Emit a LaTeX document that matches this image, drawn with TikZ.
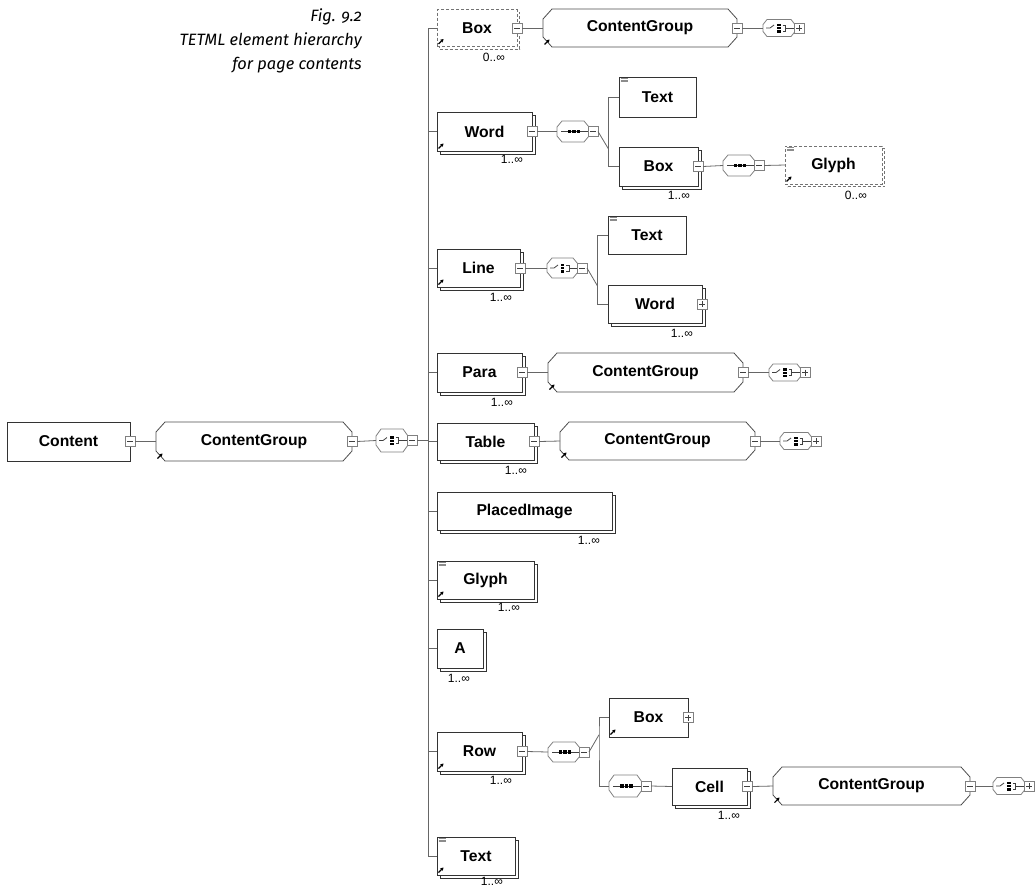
\documentclass[tikz,border=0pt]{standalone}
\usepackage{fontspec}
\setmainfont{Liberation Sans}
\newfontfamily\capfont{Fira Sans}[Numbers=OldStyle]
\usetikzlibrary{calc, positioning}
\usetikzlibrary{arrows.meta}
\usetikzlibrary{shadows}

\newcommand{\refArrow}[1]{\draw[refTip] ($(#1.west |- #1.south)+(1.5,-2.5)$) -- ++(5,-5);}
\newcommand{\txtMark}[1]{\foreach \d in {1.5,3,4.5}{\draw[txtLine] ([xshift=1.5pt,yshift=-\d pt]#1.north west) -- ++(7,0);}}
\newcommand{\card}[4]{\node[cardNum] (#1C) at ([xshift=-#2pt,yshift=-#3pt]#1.south east) {#4};}
\newcommand{\octo}[4][black!70]{\draw[draw=#1, line width=0.8pt, line join=round]
  ([xshift=#3pt]#2.north west) -- ([xshift=-#3pt]#2.north east) -- ([yshift=-#4pt]#2.north east)
  -- ([yshift=#4pt]#2.south east) -- ([xshift=-#3pt]#2.south east) -- ([xshift=#3pt]#2.south west)
  -- ([yshift=#4pt]#2.south west) -- ([yshift=-#4pt]#2.north west) -- cycle;}

\begin{document}
\begin{tikzpicture}[x=1pt, y=-1pt,
  elem/.style={draw=black!80, fill=white, line width=0.8pt, inner sep=0pt, outer sep=0pt,
    anchor=west, font=\bfseries\fontsize{15.7}{18}\selectfont},
  many/.style={copy shadow={shadow xshift=3pt, shadow yshift=-3pt, draw=black!80, fill=white, line width=0.8pt}},
  optBox/.style={draw=black!55, dash pattern=on 3pt off 2pt},
  optMany/.style={optBox, copy shadow={shadow xshift=2.5pt, shadow yshift=-2.5pt, draw=black!55,
    fill=white, line width=0.8pt, dash pattern=on 3pt off 2pt}},
  group/.style={elem, draw=none, fill=none},
  comp/.style={draw=none, inner sep=0pt, outer sep=0pt, anchor=west, minimum width=32, minimum height=21},
  compSmall/.style={comp, minimum width=32, minimum height=17},
  seqMark/.style={path picture={
    \coordinate (pc) at (path picture bounding box.center);
    \draw[black!75, line width=0.8pt] ([xshift=4pt]path picture bounding box.west) -- (path picture bounding box.east);
    \foreach \s in {-3.5,1,5.5}{\fill[black] ([shift={(\s-1.6,-1.6)}]pc) rectangle ++(3.2,3.2);}
  }},
  choMark/.style={path picture={
    \coordinate (pc) at (path picture bounding box.center);
    \draw[black!75, line width=0.8pt] ([xshift=3pt]path picture bounding box.west) -- ++(4,0) -- ++(4,-3);
    \fill[black] ([shift={(-2,-4.5)}]pc) rectangle ++(3.5,9);
    \draw[white, line width=0.5pt] ([shift={(-2.5,-1.5)}]pc) -- ++(4.5,0) ([shift={(-2.5,1.5)}]pc) -- ++(4.5,0);
    \draw[black!75, line width=0.8pt] ([shift={(3.5,-3)}]pc) -- ++(3,0) -- ++(0,6) -- ++(-3,0)
      ([shift={(6.5,0)}]pc) -- (path picture bounding box.east);
  }},
  minusBox/.style={draw=black!50, fill=white, line width=0.7pt, minimum size=10, inner sep=0pt, outer sep=0pt,
    path picture={\draw[black!75, line width=0.8pt] ([xshift=2pt]path picture bounding box.west) -- ([xshift=-2pt]path picture bounding box.east);}},
  plusBox/.style={draw=black!50, fill=white, line width=0.7pt, minimum size=10, inner sep=0pt, outer sep=0pt,
    path picture={\draw[black!75, line width=0.8pt] ([xshift=2pt]path picture bounding box.west) -- ([xshift=-2pt]path picture bounding box.east)
      ([yshift=-2pt]path picture bounding box.north) -- ([yshift=2pt]path picture bounding box.south);}},
  conn/.style={draw=black!60, line width=0.8pt},
  refTip/.style={line width=1.1pt, -{Stealth[length=3.2pt, width=3.8pt]}},
  txtLine/.style={draw=black!45, line width=0.7pt},
  cardNum/.style={anchor=north east, inner sep=0pt, font=\fontsize{12}{14}\selectfont}
]
\useasboundingbox (0,0) rectangle (1035,887);

\node[anchor=north east, align=right, inner sep=0pt, font=\capfont\itshape\fontsize{16.4}{24}\selectfont]
  (caption) at (362,9) {Fig. 9.2\\TETML element hierarchy\\for page contents};

\node[elem, minimum width=123, minimum height=39] (content) at (7,441.5) {Content};
\node[group, minimum width=196, minimum height=39] (cgMain) at (156,441.5) {ContentGroup};
\octo{cgMain}{9}{10}
\node[comp, choMark, minimum height=23] (chMain) at (376,440.5) {};
\octo[black!50]{chMain}{5}{7}
\node[minusBox] (contentT) at (content.east) {};
\node[minusBox] (cgMainT) at (cgMain.east) {};
\node[minusBox] (chMainT) at ([xshift=4pt]chMain.east) {};
\refArrow{cgMain}
\coordinate (tTop) at (428,28);
\coordinate (tBot) at (428,856);
\draw[conn] (tTop) -- (tBot);
\draw[conn] (contentT.east) -- (cgMain.west);
\draw[conn] (cgMainT.east) -- (chMain.west);
\draw[conn] (chMainT.east) -- (chMainT.east -| tTop);

\node[elem, optBox, optMany, minimum width=80, minimum height=37] (box1) at (437,28) {Box};
\node[minusBox] (box1T) at (box1.east) {};
\refArrow{box1}
\card{box1}{12}{6}{0..∞}
\node[group, minimum width=194, minimum height=38] (cg1) at (543,28) {ContentGroup};
\octo{cg1}{9}{10}
\node[minusBox] (cg1T) at (cg1.east) {};
\refArrow{cg1}
\node[compSmall, choMark] (ch1) at (763,28) {};
\octo[black!50]{ch1}{4}{5}
\node[plusBox] (ch1T) at ([xshift=4pt]ch1.east) {};
\draw[conn] (box1.west -| tTop) -- (box1.west);
\draw[conn] (box1T.east) -- (cg1.west);
\draw[conn] (cg1T.east) -- (ch1.west);

\node[elem, many, minimum width=95, minimum height=39] (word) at (437,131.5) {Word};
\node[minusBox] (wordT) at (word.east) {};
\refArrow{word}
\card{word}{9}{4}{1..∞}
\node[comp, seqMark] (sq2) at (557,131.5) {};
\octo[black!50]{sq2}{5}{6}
\node[minusBox] (sq2T) at ([xshift=4pt]sq2.east) {};
\node[elem, minimum width=77, minimum height=40] (text2) at (619,97) {Text};
\txtMark{text2}
\node[elem, many, minimum width=79, minimum height=39] (box2) at (619,166.5) {Box};
\node[minusBox] (box2T) at (box2.east) {};
\card{box2}{8}{5}{1..∞}
\node[comp, seqMark] (sq3) at (723,165.5) {};
\octo[black!50]{sq3}{5}{6}
\node[minusBox] (sq3T) at ([xshift=4pt]sq3.east) {};
\node[elem, optBox, optMany, minimum width=97, minimum height=38] (glyph2) at (785,165) {Glyph};
\txtMark{glyph2}
\refArrow{glyph2}
\card{glyph2}{15}{7}{0..∞}
\coordinate (b2) at ($(sq2T.east)!.5!(box2.west)$);
\draw[conn] (word.west -| tTop) -- (word.west);
\draw[conn] (wordT.east) -- (sq2.west);
\draw[conn] (sq2T.east) -- (b2);
\draw[conn] (text2.west) -| (b2) |- (box2.west);
\draw[conn] (box2T.east) -- (sq3.west);
\draw[conn] (sq3T.east) -- (glyph2.west);

\node[elem, many, minimum width=83, minimum height=38] (line) at (437,268) {Line};
\node[minusBox] (lineT) at (line.east) {};
\refArrow{line}
\card{line}{8}{6}{1..∞}
\node[comp, choMark, minimum width=31, minimum height=20] (ch3) at (547,268) {};
\octo[black!50]{ch3}{5}{6}
\node[minusBox] (ch3T) at ([xshift=4pt]ch3.east) {};
\node[elem, minimum width=78, minimum height=38] (text3) at (608,235) {Text};
\txtMark{text3}
\node[elem, many, minimum width=94, minimum height=38] (word3) at (608,304) {Word};
\node[plusBox] (word3T) at (word3.east) {};
\card{word3}{9}{6}{1..∞}
\coordinate (b3) at ($(ch3T.east)!.5!(word3.west)$);
\draw[conn] (line.west -| tTop) -- (line.west);
\draw[conn] (lineT.east) -- (ch3.west);
\draw[conn] (ch3T.east) -- (b3);
\draw[conn] (text3.west) -| (b3) |- (word3.west);

\node[elem, many, minimum width=85, minimum height=39] (para) at (437,372.5) {Para};
\node[minusBox] (paraT) at (para.east) {};
\card{para}{9}{6}{1..∞}
\node[group, minimum width=195, minimum height=39] (cg4) at (548,372.5) {ContentGroup};
\octo{cg4}{9}{10}
\node[minusBox] (cg4T) at (cg4.east) {};
\refArrow{cg4}
\node[compSmall, choMark] (ch4) at (769,372.5) {};
\octo[black!50]{ch4}{4}{5}
\node[plusBox] (ch4T) at ([xshift=4pt]ch4.east) {};
\draw[conn] (para.west -| tTop) -- (para.west);
\draw[conn] (paraT.east) -- (cg4.west);
\draw[conn] (cg4T.east) -- (ch4.west);

\node[elem, many, minimum width=97, minimum height=37] (table) at (437,441.5) {Table};
\node[minusBox] (tableT) at (table.east) {};
\card{table}{7}{6}{1..∞}
\node[group, minimum width=195, minimum height=38] (cg5) at (560,441) {ContentGroup};
\octo{cg5}{9}{10}
\node[minusBox] (cg5T) at (cg5.east) {};
\refArrow{cg5}
\node[compSmall, choMark] (ch5) at (780,441) {};
\octo[black!50]{ch5}{4}{5}
\node[plusBox] (ch5T) at ([xshift=4pt]ch5.east) {};
\draw[conn] (tableT.east) -- (cg5.west);
\draw[conn] (cg5T.east) -- (ch5.west);
\draw[conn] (table.west -| tTop) -- (table.west);

\node[elem, many, minimum width=175, minimum height=38] (placed) at (437,511) {PlacedImage};
\card{placed}{12}{6}{1..∞}
\draw[conn] (placed.west -| tTop) -- (placed.west);

\node[elem, many, minimum width=97, minimum height=38] (glyph) at (437,580) {Glyph};
\txtMark{glyph}
\refArrow{glyph}
\card{glyph}{14}{4}{1..∞}
\draw[conn] (glyph.west -| tTop) -- (glyph.west);

\node[elem, many, minimum width=46, minimum height=39] (a) at (437,648.5) {A};
\card{a}{13}{6}{1..∞}
\draw[conn] (a.west -| tTop) -- (a.west);

\node[elem, many, minimum width=85, minimum height=39] (row) at (437,751.5) {Row};
\node[minusBox] (rowT) at (row.east) {};
\refArrow{row}
\card{row}{10}{5}{1..∞}
\node[comp, seqMark, minimum height=20] (sq9) at (548,752) {};
\octo[black!50]{sq9}{5}{6}
\node[minusBox] (sq9T) at ([xshift=4pt]sq9.east) {};
\node[elem, minimum width=79, minimum height=39] (box9) at (609,717.5) {Box};
\node[plusBox] (box9T) at (box9.east) {};
\refArrow{box9}
\node[comp, seqMark, minimum width=33, minimum height=22] (sq10) at (609,786) {};
\octo[black!50]{sq10}{5}{7}
\node[minusBox] (sq10T) at ([xshift=4pt]sq10.east) {};
\node[elem, many, minimum width=75, minimum height=37] (cell) at (672,786.5) {Cell};
\node[minusBox] (cellT) at (cell.east) {};
\card{cell}{7}{6}{1..∞}
\node[group, minimum width=197, minimum height=38] (cg10) at (773,786) {ContentGroup};
\octo{cg10}{9}{10}
\node[minusBox] (cg10T) at (cg10.east) {};
\refArrow{cg10}
\node[compSmall, choMark] (ch10) at (993,786) {};
\octo[black!50]{ch10}{4}{5}
\node[plusBox] (ch10T) at ([xshift=4pt]ch10.east) {};
\coordinate (b9) at ($(sq9T.east)!.5!(box9.west)$);
\draw[conn] (row.west -| tTop) -- (row.west);
\draw[conn] (rowT.east) -- (sq9.west);
\draw[conn] (sq9T.east) -- (b9);
\draw[conn] (box9.west) -| (b9) |- (sq10.west);
\draw[conn] (sq10T.east) -- (cell.west);
\draw[conn] (cellT.east) -- (cg10.west);
\draw[conn] (cg10T.east) -- (ch10.west);

\node[elem, many, minimum width=78, minimum height=38] (text10) at (437,856) {Text};
\txtMark{text10}
\refArrow{text10}
\card{text10}{12}{2}{1..∞}
\draw[conn] (text10.west -| tTop) -- (text10.west);
\end{tikzpicture}
\end{document}
